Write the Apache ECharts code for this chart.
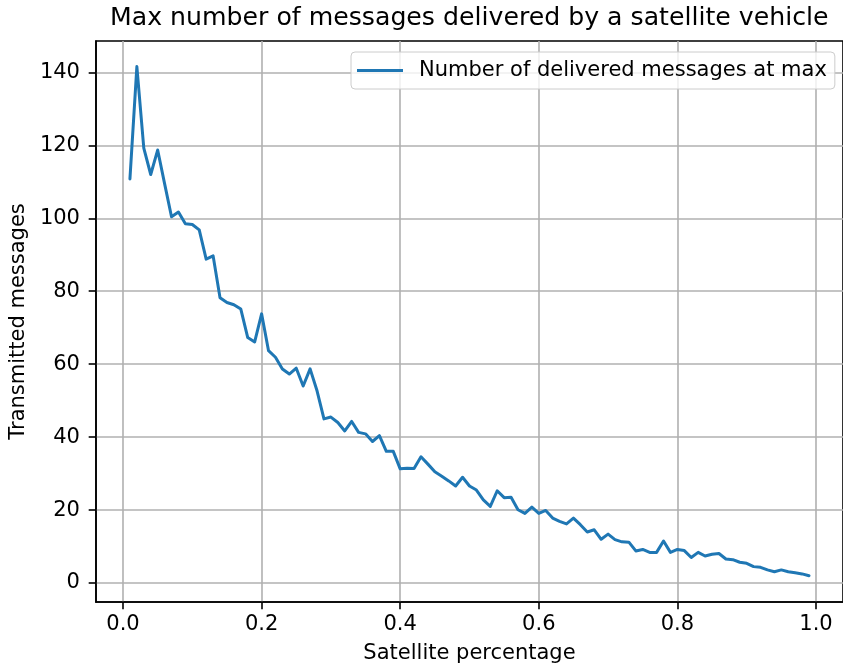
<!DOCTYPE html>
<html>
<head>
<meta charset="utf-8">
<script src="https://cdn.jsdelivr.net/npm/echarts@6/dist/echarts.min.js"></script>
<style>
  html, body { margin: 0; padding: 0; background: #ffffff; }
  #chart { width: 843px; height: 670px; }
</style>
</head>
<body>
<div id="chart"></div>
<script>
// Share of satellite vehicles (0.01 .. 0.99)
const satellitePct = [
  0.01, 0.02, 0.03, 0.04, 0.05, 0.06, 0.07, 0.08, 0.09, 0.10,
  0.11, 0.12, 0.13, 0.14, 0.15, 0.16, 0.17, 0.18, 0.19, 0.20,
  0.21, 0.22, 0.23, 0.24, 0.25, 0.26, 0.27, 0.28, 0.29, 0.30,
  0.31, 0.32, 0.33, 0.34, 0.35, 0.36, 0.37, 0.38, 0.39, 0.40,
  0.41, 0.42, 0.43, 0.44, 0.45, 0.46, 0.47, 0.48, 0.49, 0.50,
  0.51, 0.52, 0.53, 0.54, 0.55, 0.56, 0.57, 0.58, 0.59, 0.60,
  0.61, 0.62, 0.63, 0.64, 0.65, 0.66, 0.67, 0.68, 0.69, 0.70,
  0.71, 0.72, 0.73, 0.74, 0.75, 0.76, 0.77, 0.78, 0.79, 0.80,
  0.81, 0.82, 0.83, 0.84, 0.85, 0.86, 0.87, 0.88, 0.89, 0.90,
  0.91, 0.92, 0.93, 0.94, 0.95, 0.96, 0.97, 0.98, 0.99
];

// Max number of messages delivered by one satellite vehicle
const deliveredAtMax = [
  110.8, 141.6, 119.2, 112.0, 118.7, 109.5, 100.4, 101.7, 98.5, 98.3,
  96.8, 88.8, 89.7, 78.2, 76.9, 76.3, 75.1, 67.3, 66.1, 73.8,
  63.7, 61.9, 58.7, 57.3, 58.9, 54.0, 58.7, 52.7, 45.0, 45.5,
  44.0, 41.7, 44.3, 41.3, 40.9, 38.8, 40.4, 36.1, 36.1, 31.3,
  31.5, 31.4, 34.6, 32.6, 30.5, 29.3, 28.0, 26.6, 29.0, 26.6,
  25.5, 22.8, 21.0, 25.3, 23.4, 23.5, 20.1, 19.1, 20.8, 19.1,
  19.9, 17.8, 16.9, 16.2, 17.8, 16.0, 14.0, 14.6, 12.0, 13.4,
  11.9, 11.3, 11.2, 8.8, 9.2, 8.4, 8.4, 11.5, 8.4, 9.2,
  8.9, 7.0, 8.4, 7.4, 7.9, 8.1, 6.6, 6.4, 5.7, 5.4,
  4.5, 4.3, 3.6, 3.1, 3.6, 3.1, 2.8, 2.5, 2.0
];

const xTicks = [0.0, 0.2, 0.4, 0.6, 0.8, 1.0];
const yTicks = [0, 20, 40, 60, 80, 100, 120, 140];

const seriesName = 'Number of delivered messages at max';
const FONT = 'DejaVu Sans';
const LABEL_SIZE = 21;

const points = satellitePct.map((p, i) => [p, deliveredAtMax[i]]);

const chart = echarts.init(document.getElementById('chart'), null, { renderer: 'canvas' });

chart.setOption({
  animation: false,
  backgroundColor: '#ffffff',
  title: {
    text: 'Max number of messages delivered by a satellite vehicle',
    left: 110,
    top: 6,
    padding: 0,
    textStyle: { fontFamily: FONT, fontSize: 25.2, fontWeight: 'normal', color: '#000000' }
  },
  legend: {
    data: [seriesName],
    left: 351,
    top: 52,
    orient: 'vertical',
    padding: [8, 8, 8, 6],
    backgroundColor: 'rgba(255,255,255,0.8)',
    borderColor: '#cccccc',
    borderWidth: 1,
    borderRadius: 4,
    icon: 'rect',
    itemWidth: 46,
    itemHeight: 3,
    textStyle: { fontFamily: FONT, fontSize: LABEL_SIZE, color: '#000000', padding: [0, 0, 0, 11] }
  },
  // plot frame: top spine drawn by the grid border, right side runs off the canvas
  grid: {
    left: 94, right: -3, top: 41, bottom: 68, containLabel: false,
    show: true, borderColor: '#000000', borderWidth: 1.6, backgroundColor: 'transparent'
  },
  xAxis: {
    type: 'value',
    min: -0.039,
    max: 1.039,
    name: 'Satellite percentage',
    nameLocation: 'middle',
    nameGap: 41.5,
    nameTextStyle: { fontFamily: FONT, fontSize: LABEL_SIZE, color: '#000000' },
    axisLine: { show: true, onZero: false, lineStyle: { color: '#000000', width: 1.6 } },
    axisTick: { show: true, inside: false, length: 7.3, customValues: xTicks, lineStyle: { color: '#000000', width: 1.6 } },
    axisLabel: {
      customValues: xTicks,
      margin: 12.5,
      fontFamily: FONT, fontSize: LABEL_SIZE, color: '#000000',
      formatter: v => v.toFixed(1)
    },
    splitLine: { show: true, lineStyle: { color: '#b0b0b0', width: 1.6 } }
  },
  yAxis: {
    type: 'value',
    min: -5.2,
    max: 148.6,
    name: 'Transmitted messages',
    nameLocation: 'middle',
    nameGap: 65,
    nameRotate: 90,
    nameTextStyle: { fontFamily: FONT, fontSize: LABEL_SIZE, color: '#000000' },
    axisLine: { show: true, onZero: false, lineStyle: { color: '#000000', width: 1.6 } },
    axisTick: { show: true, inside: false, length: 7.3, customValues: yTicks, lineStyle: { color: '#000000', width: 1.6 } },
    axisLabel: {
      customValues: yTicks,
      margin: 16,
      fontFamily: FONT, fontSize: LABEL_SIZE, color: '#000000'
    },
    splitLine: { show: true, lineStyle: { color: '#b0b0b0', width: 1.6 } }
  },
  series: [{
    name: seriesName,
    type: 'line',
    data: points,
    showSymbol: false,
    symbol: 'none',
    lineStyle: { color: '#1f77b4', width: 3, join: 'round', cap: 'round' },
    itemStyle: { color: '#1f77b4' }
  }]
});
</script>
</body>
</html>
